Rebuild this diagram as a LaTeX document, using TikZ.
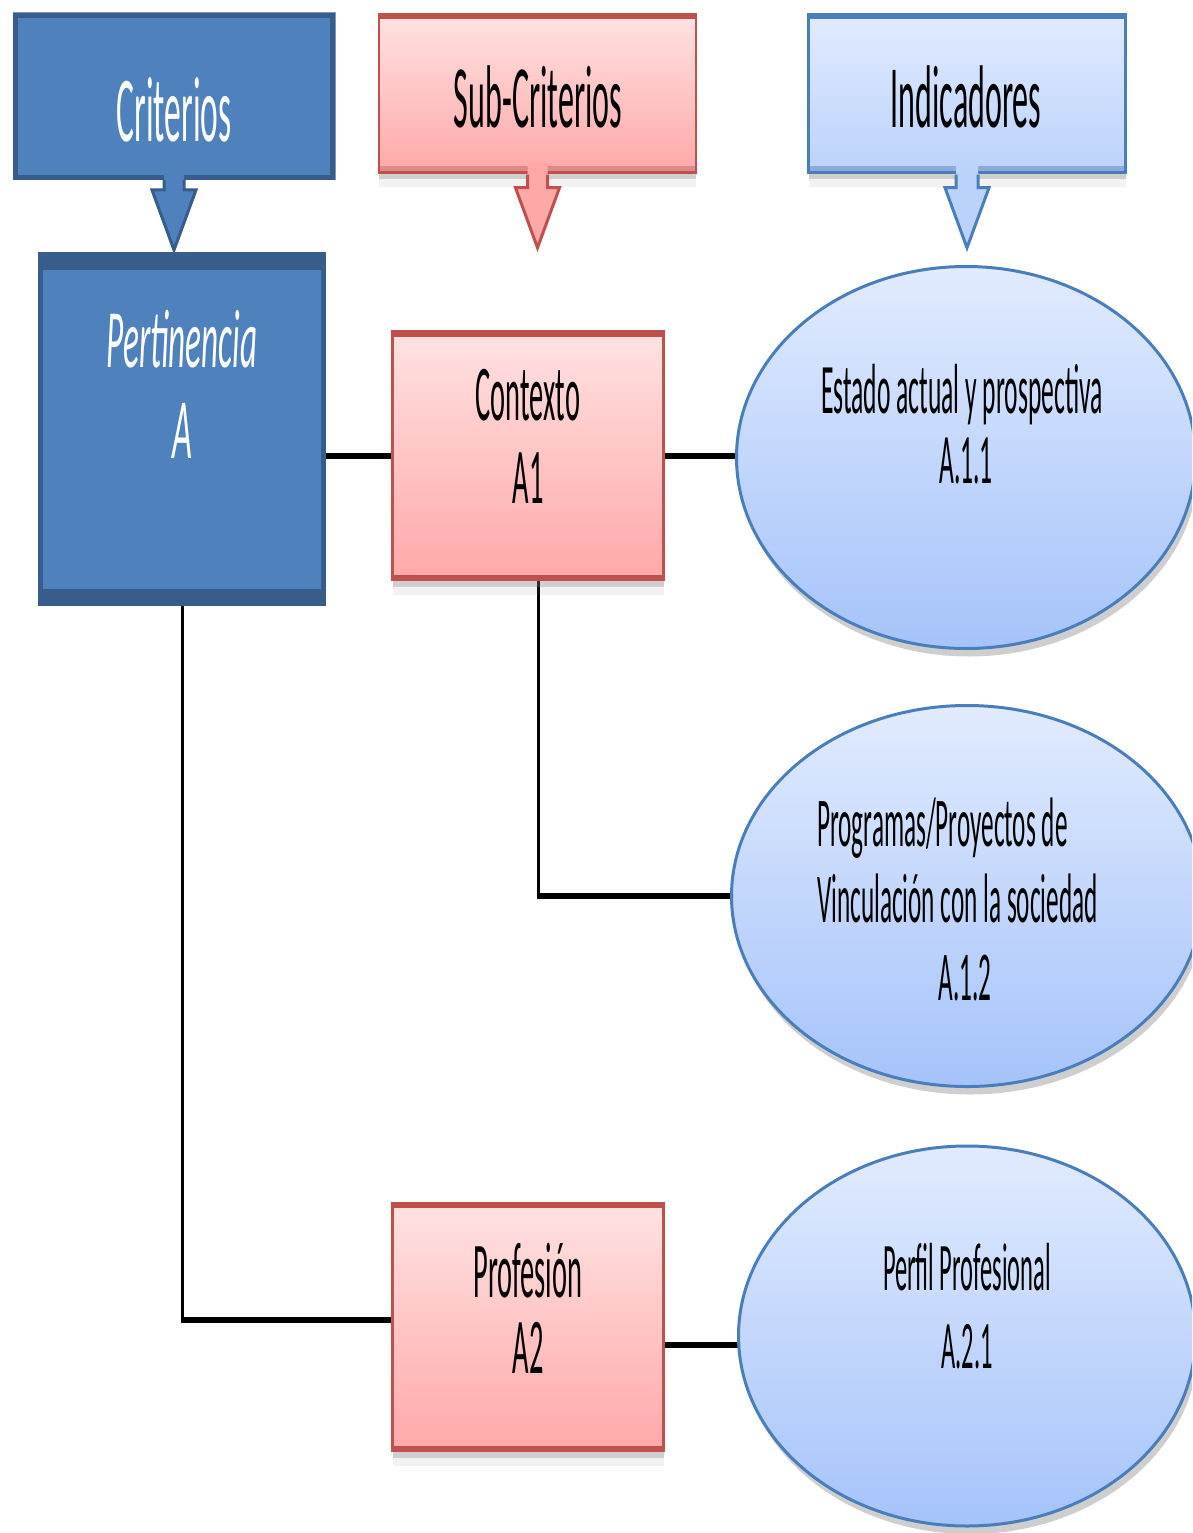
\documentclass[tikz,border=0pt]{standalone}
\usepackage{fontspec}
\setmainfont[FakeStretch=0.36, ItalicFeatures={FakeStretch=0.40}]{Carlito}
\usetikzlibrary{shapes.geometric,shadows}
\definecolor{critFill}{HTML}{4F81BD}
\definecolor{critDark}{HTML}{385D8A}
\definecolor{critFringe}{HTML}{7D98BA}
\definecolor{redLine}{HTML}{C0504D}
\definecolor{redTop}{HTML}{FFE2E2}
\definecolor{redBot}{HTML}{FFA8A8}
\definecolor{redLow}{HTML}{DC8A88}
\definecolor{bluLine}{HTML}{4A7EBB}
\definecolor{bluTop}{HTML}{E1EBFE}
\definecolor{bluBot}{HTML}{BBD2FB}
\definecolor{bluLow}{HTML}{8EAADB}
\definecolor{ellBot}{HTML}{A5C3FA}
\tikzset{
  critbox/.style={rectangle, draw=critDark, line width=5pt, fill=critFill, inner sep=0pt},
  boxshadow/.style={drop shadow={shadow xshift=0pt, shadow yshift=-7pt, opacity=0.3},
                    drop shadow={shadow xshift=0pt, shadow yshift=-15pt, opacity=0.1}},
  redhead/.style={rectangle, draw=redLine, line width=2.5pt, top color=redTop, bottom color=redBot, inner sep=0pt, boxshadow,
    path picture={\fill[redLine] (path picture bounding box.north west) rectangle ([yshift=-5pt]path picture bounding box.north east);
                  \fill[redLow] (path picture bounding box.south west) rectangle ([yshift=6pt]path picture bounding box.south east);}},
  redbox/.style={rectangle, draw=redLine, line width=2.5pt, top color=redTop, bottom color=redBot, inner sep=0pt, boxshadow,
    path picture={\fill[redLine] (path picture bounding box.north west) rectangle ([yshift=-5pt]path picture bounding box.north east);
                  \fill[redLine] (path picture bounding box.south west) rectangle ([yshift=5pt]path picture bounding box.south east);}},
  bluhead/.style={rectangle, draw=bluLine, line width=2.5pt, top color=bluTop, bottom color=bluBot, inner sep=0pt, boxshadow,
    path picture={\fill[bluLine] (path picture bounding box.north west) rectangle ([yshift=-5pt]path picture bounding box.north east);
                  \fill[bluLow] (path picture bounding box.south west) rectangle ([yshift=6pt]path picture bounding box.south east);}},
  ellbox/.style={ellipse, draw=bluLine, line width=3pt, top color=bluTop, bottom color=ellBot, inner sep=0pt,
    drop shadow={shadow xshift=3pt, shadow yshift=-8pt, opacity=0.38}},
  hline/.style={line width=6pt, black},
  vline/.style={line width=3pt, black},
  lbl/.style={anchor=base, inner sep=0pt},
  blkarrow/.style={line width=3pt, line join=miter}
}
\begin{document}
\begin{tikzpicture}[x=1pt,y=-1pt]
\useasboundingbox (0,0) rectangle (1192,1533);
\fill[white] (0,0) rectangle (1192,1533);
\clip (0,0) rectangle (1192,1533);

% anchor nodes for shapes (drawn later), connectors first
\path (182,429) node[rectangle, minimum width=283pt, minimum height=349pt, inner sep=0pt] (A) {};
\path (528,455.5) node[rectangle, minimum width=271pt, minimum height=248pt, inner sep=0pt] (C1) {};
\path (528,1327) node[rectangle, minimum width=271pt, minimum height=248pt, inner sep=0pt] (A2) {};
\path (966,457.5) node[ellipse, minimum width=459pt, minimum height=382pt, inner sep=0pt] (E1) {};
\path (967,896) node[ellipse, minimum width=471pt, minimum height=381pt, inner sep=0pt] (E2) {};
\path (967,1336) node[ellipse, minimum width=457pt, minimum height=380pt, inner sep=0pt] (E3) {};

\coordinate (k1) at ([yshift=7pt]A2.west);
\coordinate (k2) at ([yshift=-18pt]A2.east);
\coordinate (k3) at ([xshift=10pt]C1.south);

\draw[hline] (A.east |- C1.west) -- (C1.west);
\draw[hline] (C1.east) -- (E1.west |- C1.east);
\draw[vline] (k3) -- (k3 |- E2.west);
\draw[hline] ([xshift=-1.5pt]k3 |- E2.west) -- (E2.west);
\draw[vline] (A.south) -- (A.south |- k1);
\draw[hline] ([xshift=-1.5pt]A.south |- k1) -- (k1);
\draw[hline] (k2) -- (E3.west |- k2);

% header boxes
\node[rectangle, fill=critFringe, minimum width=323pt, minimum height=168pt, inner sep=0pt] (H1f) at (174,96.5) {};
\node[critbox, minimum width=317pt, minimum height=162pt] (H1) at (174,96.5) {};
\node[redhead, minimum width=317pt, minimum height=158pt] (H2) at (537.5,93.5) {};
\node[bluhead, minimum width=317pt, minimum height=158pt] (H3) at (967,93.5) {};

% block arrows
\fill[critFill, shift={(H1.south)}] (-10,-10) -- (-10,10) -- (-22,10) -- (0,70) -- (22,10) -- (10,10) -- (10,-10) -- cycle;
\draw[blkarrow, critDark, shift={(H1.south)}] (-10,0) -- (-10,10) -- (-22,10) -- (0,70) -- (22,10) -- (10,10) -- (10,0);
\fill[redBot, shift={(H2.south)}] (-10,-10) -- (-10,14) -- (-22,14) -- (0,74) -- (22,14) -- (10,14) -- (10,-10) -- cycle;
\draw[blkarrow, redLine, shift={(H2.south)}] (-10,1) -- (-10,14) -- (-22,14) -- (0,74) -- (22,14) -- (10,14) -- (10,1);
\fill[bluBot, shift={(H3.south)}] (-11,-10) -- (-11,14) -- (-22,14) -- (0,74) -- (22,14) -- (11,14) -- (11,-10) -- cycle;
\draw[blkarrow, bluLine, shift={(H3.south)}] (-11,1) -- (-11,14) -- (-22,14) -- (0,74) -- (22,14) -- (11,14) -- (11,1);

% main shapes
\node[critbox, minimum width=283pt, minimum height=349pt,
  path picture={\fill[critDark] (path picture bounding box.north west) rectangle ([yshift=-15pt]path picture bounding box.north east);
                \fill[critDark] (path picture bounding box.south west) rectangle ([yshift=15pt]path picture bounding box.south east);}] (Ab) at (A) {};
\node[redbox, minimum width=271pt, minimum height=248pt] (C1b) at (C1) {};
\node[redbox, minimum width=271pt, minimum height=248pt] (A2b) at (A2) {};
\node[ellbox, minimum width=459pt, minimum height=382pt] (E1b) at (E1) {};
\node[ellbox, minimum width=471pt, minimum height=381pt] (E2b) at (E2) {};
\node[ellbox, minimum width=457pt, minimum height=380pt] (E3b) at (E3) {};

% texts
\node[lbl, text=white, font=\fontsize{93}{100}\selectfont] (tH1) at (174,142) {Criterios};
\node[lbl, font=\fontsize{89}{100}\selectfont] (tH2) at (538,128) {Sub-Criterios};
\node[lbl, font=\fontsize{89}{100}\selectfont] (tH3) at (966,128) {Indicadores};
\node[lbl, text=white, font=\fontsize{83}{100}\selectfont\itshape] (tA1) at (182,367) {Pertinencia};
\node[lbl, text=white, font=\fontsize{86}{100}\selectfont\itshape] (tA2) at (182,458) {A};
\node[lbl, font=\fontsize{79}{90}\selectfont] (tC1a) at (528,420) {Contexto};
\node[lbl, font=\fontsize{79}{90}\selectfont] (tC1b) at (528,503) {A1};
\node[lbl, font=\fontsize{71}{80}\selectfont] (tE1a) at (962,413) {Estado actual y prospectiva};
\node[lbl, font=\fontsize{71}{80}\selectfont] (tE1b) at (966,483) {A.1.1};
\node[lbl, anchor=base west, font=\fontsize{70}{80}\selectfont] (tE2a) at (817,846) {Programas/Proyectos de};
\node[lbl, anchor=base west, font=\fontsize{70}{80}\selectfont] (tE2b) at (817,922) {Vinculación con la sociedad};
\node[lbl, font=\fontsize{70}{80}\selectfont] (tE2c) at (965,1000) {A.1.2};
\node[lbl, font=\fontsize{79}{90}\selectfont] (tA2a) at (528,1297) {Profesión};
\node[lbl, font=\fontsize{79}{90}\selectfont] (tA2b) at (528,1373) {A2};
\node[lbl, font=\fontsize{68}{80}\selectfont] (tE3a) at (967,1290) {Perfil Profesional};
\node[lbl, font=\fontsize{68}{80}\selectfont] (tE3b) at (967,1368) {A.2.1};
\end{tikzpicture}
\end{document}
